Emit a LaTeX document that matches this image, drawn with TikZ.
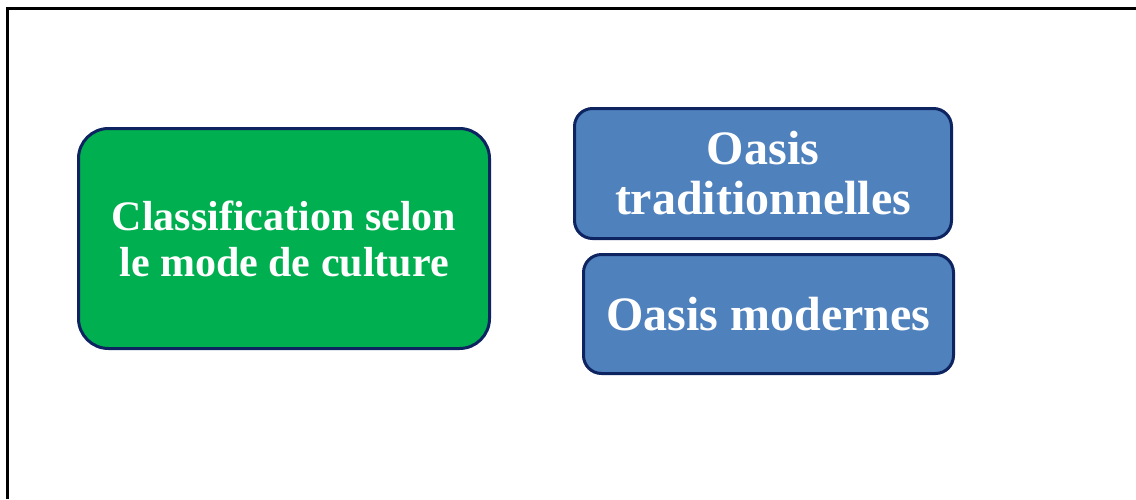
\documentclass[tikz,border=0pt]{standalone}
\usepackage{fontspec}
\setmainfont{Liberation Serif}
\usepackage{tikz}
\usetikzlibrary{positioning}
\definecolor{navyline}{RGB}{14,36,96}
\definecolor{boxgreen}{RGB}{0,176,80}
\definecolor{boxblue}{RGB}{79,129,189}

\begin{document}
\begin{tikzpicture}[x=0.5pt,y=-0.5pt,line width=1.5pt]
\tikzstyle{every node}=[draw=navyline,text=white,align=center,inner sep=0pt]
\tikzstyle{classbox}=[fill=boxgreen,rounded corners=15pt,minimum width=205.5pt,minimum height=110pt,font=\bfseries\fontsize{21}{23}\selectfont]
\tikzstyle{oasisbox}=[fill=boxblue,rounded corners=9pt,font=\bfseries\fontsize{24}{25}\selectfont]
\useasboundingbox (0,0) rectangle (1136,499);
\draw[black] (7,499) -- (7,8) -- (1136,8);
\node[classbox] (C) at (284,238.5) {Classification selon\\le mode de culture};
\node[oasisbox,minimum width=188.5pt,minimum height=65pt] (T) at (763,173.5) {Oasis\\traditionnelles};
\node[oasisbox,minimum width=185pt,minimum height=59.5pt][below=6.5pt of T,xshift=2.75pt] (M) {Oasis modernes};
\end{tikzpicture}
\end{document}
